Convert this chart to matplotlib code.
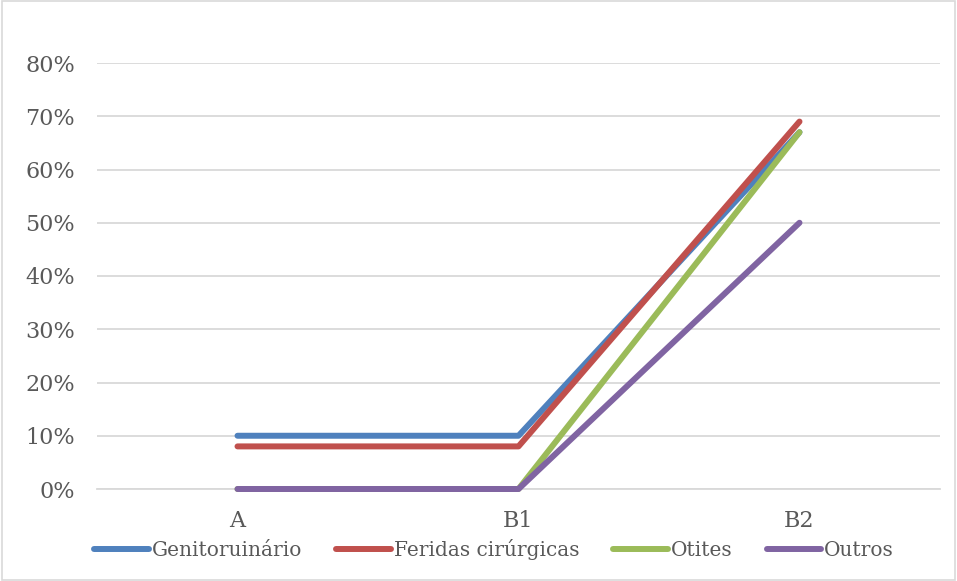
import matplotlib
matplotlib.use('Agg')
import matplotlib.pyplot as plt
from matplotlib.ticker import FuncFormatter

plt.rcParams['font.family'] = 'serif'
plt.rcParams['font.serif'] = ['DejaVu Serif']

# ── data ───────────────────────────────────────────────────────────────────
categories = ["A", "B1", "B2"]
genitourinario = [10, 10, 67]
feridas = [8, 8, 69]
otites = [0, 0, 67]
outros = [0, 0, 50]

series_names = ["Genitoruinário", "Feridas cirúrgicas", "Otites", "Outros"]
colors = ["#4F81BD", "#C0504D", "#9BBB59", "#8064A2"]

# ── figure ─────────────────────────────────────────────────────────────────
fig = plt.figure(figsize=(9.57, 5.81), dpi=100)
ax = fig.add_axes([97 / 957, 1 - 489 / 581, 843 / 957, 426 / 581])

x = range(len(categories))
for vals, name, c in zip([genitourinario, feridas, otites, outros], series_names, colors):
    ax.plot(x, vals, color=c, lw=4.3, solid_capstyle='round', label=name, clip_on=False)

ax.set_xlim(-0.5, 2.5)
ax.set_ylim(0, 80)
ax.set_yticks(range(0, 81, 10))
ax.yaxis.set_major_formatter(FuncFormatter(lambda v, p: f"{v:.0f}%"))
ax.set_xticks(list(x))
ax.set_xticklabels(categories)

ax.grid(axis='y', color='#D9D9D9', lw=1.3)
ax.set_axisbelow(True)
for s in ['top', 'right', 'left']:
    ax.spines[s].set_visible(False)
ax.spines['bottom'].set_color('#D9D9D9')
ax.spines['bottom'].set_linewidth(1.3)
ax.spines['bottom'].set_zorder(0)
ax.tick_params(length=0, labelsize=16, labelcolor='#595959')
ax.tick_params(axis='y', pad=16)
ax.tick_params(axis='x', pad=15)

# legend row sits under the plot, centred on the chart area
leg = fig.legend(loc='center', bbox_to_anchor=(494 / 957, 1 - 550 / 581), ncol=4, frameon=False,
                 handlelength=2.7, handletextpad=0.15, columnspacing=1.7,
                 borderpad=0, prop={'family': 'DejaVu Serif', 'size': 14.5})
for t in leg.get_texts():
    t.set_color('#595959')
for h in leg.get_lines():
    h.set_solid_capstyle('round')

# outer chart border
fig.patches.append(plt.Rectangle((0.002, 0.002), 0.996, 0.996, transform=fig.transFigure,
                                 fill=False, edgecolor='#D9D9D9', lw=1.2))

fig.savefig("out.png", dpi=100)
